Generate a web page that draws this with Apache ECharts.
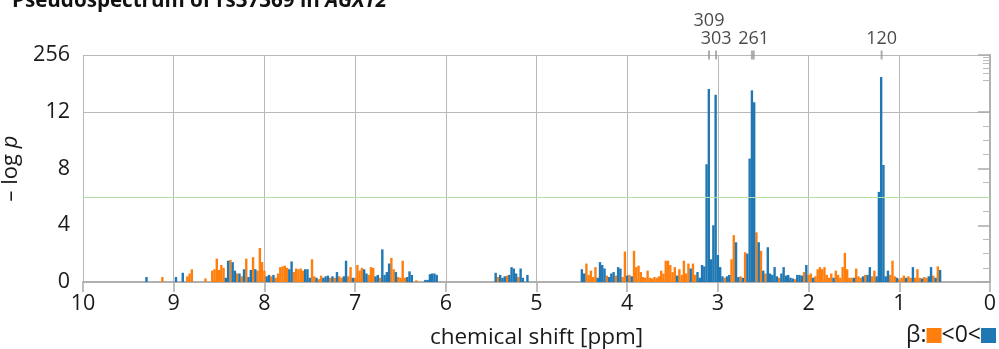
<!DOCTYPE html>
<html>
<head>
<meta charset="utf-8">
<script src="https://cdn.jsdelivr.net/npm/echarts@6/dist/echarts.min.js"></script>
<style>
html, body { margin: 0; padding: 0; background: #fff; }
#chart { width: 999px; height: 349px; }
</style>
</head>
<body>
<div id="chart"></div>
<script>
// signed -log p per 0.025 ppm bin: negative = beta < 0 (orange), positive = beta > 0 (blue)
const binStep = 0.025;
const startA = 9.3, startB = 5.5, startC = 4.525;
const signedA = [
  0.35, 0, 0, 0, 0, 0, 0, -0.35, 0, 0,
  0, 0, 0, 0.35, 0, 0, 0.65, 0, -0.4, -0.6,
  -0.9, 0, 0, 0, 0, 0, -0.25, 0, 0, -0.8,
  -0.9, -1.65, -0.85, -1.2, -1.0, 0.3, 1.5, -1.55, 1.4, 0.8,
  -0.6, 0.6, -0.4, 0.9, -1.65, 0.35, 0.85, -1.75, 0.9, -0.8,
  -2.4, -1.4, -0.8, 0.4, 0.5, -0.4, 0.5, -0.3, -0.6, -1.05,
  -1.1, -1.15, -1.0, 0.9, 1.45, -0.7, -0.95, -0.9, -0.95, -0.8,
  0.9, 0.9, 0.3, -1.6, -0.4, 0.3, -0.2, -0.45, 0.3, 0.4,
  0.45, -0.3, 0.4, -0.3, 0.7, -0.4, -0.3, 0.4, 1.5, -0.4,
  -1.05, 0.3, -0.3, -1.2, -0.8, -1.0, 0.9, 0.6, -0.5, -1.05,
  -1.0, 0.4, 0.5, -0.3, 2.3, 0.5, 0.7, 1.3, -1.7, -0.9,
  0.7, -0.35, -0.3, -1.5, -0.3, 0.35, 0.75, 0.5, 0, -0.12,
  0, 0, 0, 0.15, 0.15, 0.55, 0.6, 0.6, 0.5
];
const signedB = [0, 0, 0.65, -0.35, 0.5, 0.3, 0.4, -0.45, 0.5, 1.05, 0.95, 0.6, -0.35, 0.95, 0.3, 0, 0.5];
const signedC = [
  0, 0.9, 0.6, -1.3, -0.5, -0.8, -0.35, -1.05, 0.3, 1.4,
  1.2, 0.95, -0.45, 0.35, 0.6, 0.7, -0.45, 1.05, 0.95, -0.35,
  -2.15, 0.45, -0.5, 0.4, -2.2, -1.05, -1.15, -0.7, -0.35, -0.3,
  -0.8, -0.3, -0.25, -0.35, -0.3, -0.4, -0.8, -0.6, -1.5, -1.5,
  -1.2, -0.7, -1.05, 0.45, -0.9, -0.5, -1.5, -0.6, -1.3, 0.95,
  -1.3, -0.5, 0.7, 0.3, 1.2, 1.1, 8.3, 41, 1.6, 4.0,
  30, 1.9, 1.05, 0.4, -0.3, 0.4, 0.5, -1.6, -3.3, 2.8,
  0.35, -0.4, 0.3, -2.1, 2.0, 8.7, 38, 20, -3.5, 2.8,
  -2.2, 0.8, -0.6, 2.45, 0.6, 0.5, 1.05, 0.4, -0.3, 0.6,
  1.05, 0.45, 0.5, 0.3, 0.25, -0.2, 0.5, 0.5, 0.45, -0.7,
  1.2, -0.5, -0.6, 0.3, -0.4, -0.9, -1.05, -0.9, -1.05, -0.5,
  -0.3, -0.6, 0.3, -0.8, -0.5, -0.3, -1.05, -2.05, -0.9, -0.3,
  -0.3, 0.3, -0.95, -0.4, -0.3, 0.4, -0.5, 0.5, 1.05, -0.4,
  -0.8, 0.4, 6.35, 78, 8.25, 0.4, 0.8, -0.5, -1.5, -0.4,
  0.3, -0.2, -0.3, -0.45, 0.3, -0.4, -0.3, 1.05, -0.3, -0.9,
  -0.3, 0.25, -0.35, -0.3, 0.4, 1.05, -0.45, 0.3, -1.1, 0.85
];

const yTickLabels = ['0', '4', '8', '12', '256'];
const yBreakTicks = [64, 96, 128, 160, 192, 224];
const peakShift = [3.098, 3.02, 2.625, 2.605, 1.195];
const peakLabels = ['309', '303', '', '261', '120'];
const peakLevel = [1, 0, 0, 0, 0];
const threshold = 6;

const orange = '#ff7f0e', blue = '#1f77b4';
const font = 'Open Sans';
const ink = '#1a1a1a';

// above 12 the axis is squeezed: 12..256 drawn in the band 12..16
function disp(v) {
  return v <= 12 ? v : 12 + 4 * Math.log(v / 12) / Math.log(256 / 12);
}

const negBars = [], posBars = [];
[[startA, signedA], [startB, signedB], [startC, signedC]].forEach(([s, arr]) => {
  arr.forEach((v, i) => {
    if (!v) return;
    const x = +(s - i * binStep).toFixed(3);
    (v < 0 ? negBars : posBars).push([x, disp(Math.abs(v))]);
  });
});

const minorTicks = [1, 2, 3, 5, 6, 7, 9, 10, 11].concat(yBreakTicks.map(disp));

const chart = echarts.init(document.getElementById('chart'));

const option = {
  animation: false,
  textStyle: { fontFamily: font },
  grid: { left: 83, right: 9, top: 55, bottom: 67, outerBoundsMode: 'none', containLabel: false },
  xAxis: {
    type: 'value',
    min: 0,
    max: 10,
    interval: 1,
    inverse: true,
    name: 'chemical shift [ppm]',
    nameLocation: 'middle',
    nameGap: 44,
    nameTextStyle: { fontSize: 22.5, color: ink, fontFamily: font },
    axisLine: { lineStyle: { color: '#b0b0b0', width: 2 } },
    axisTick: { length: 10, lineStyle: { color: '#aaa', width: 1.5 } },
    axisLabel: { fontSize: 21.5, color: ink, margin: 11, fontFamily: font },
    splitLine: { show: true, lineStyle: { color: '#b8b8b8', width: 1 } }
  },
  yAxis: [
    {
      type: 'value',
      min: 0,
      max: 16,
      interval: 4,
      name: '– log {i|p}',
      nameLocation: 'middle',
      nameGap: 46,
      nameTextStyle: {
        fontSize: 22, color: ink, fontFamily: font,
        rich: { i: { fontStyle: 'italic', fontSize: 22, color: ink, fontFamily: font } }
      },
      axisLine: { show: true, lineStyle: { color: '#b0b0b0', width: 2 } },
      axisTick: { show: true, length: 11, lineStyle: { color: '#aaa', width: 1.5 } },
      axisLabel: {
        fontSize: 21.5, color: ink, margin: 13, fontFamily: font,
        formatter: v => yTickLabels[Math.round(v / 4)]
      },
      splitLine: {
        show: true,
        lineStyle: { color: ['rgba(0,0,0,0)', 'rgba(0,0,0,0)', 'rgba(0,0,0,0)', '#b8b8b8', '#b8b8b8'], width: 1 }
      }
    },
    {
      type: 'value', min: 0, max: 16, interval: 4,
      axisLine: { show: false },
      axisTick: { show: true, inside: true, length: 12, lineStyle: { color: '#aaa', width: 1.5 } },
      axisLabel: { show: false },
      splitLine: { show: false }
    },
    {
      type: 'value', min: 0, max: 16, interval: 4,
      axisLine: { show: false },
      axisTick: { show: true, inside: true, length: 7, customValues: minorTicks, lineStyle: { color: '#bbb', width: 1 } },
      axisLabel: { show: false },
      splitLine: { show: false }
    }
  ],
  series: [
    {
      type: 'bar',
      data: negBars,
      barWidth: 2.4,
      barGap: '-100%',
      itemStyle: { color: orange },
      markLine: {
        silent: true,
        symbol: 'none',
        label: { show: false },
        lineStyle: { color: '#b3e2a6', width: 1, type: 'solid', opacity: 1 },
        data: [{ yAxis: threshold }]
      }
    },
    {
      type: 'bar',
      data: posBars,
      barWidth: 2.4,
      barGap: '-100%',
      itemStyle: { color: blue }
    },
    {
      type: 'scatter',
      clip: false,
      silent: true,
      symbol: 'rect',
      symbolSize: [2, 9],
      itemStyle: { color: '#999' },
      z: 10,
      data: peakShift.map((x, i) => ({
        value: [x, 16],
        label: {
          show: !!peakLabels[i],
          formatter: peakLabels[i],
          position: 'top',
          distance: 3,
          offset: [0, -18 * peakLevel[i]],
          fontSize: 18,
          color: ink,
          fontFamily: font
        }
      }))
    }
  ],
  graphic: [
    {
      type: 'text',
      left: 12,
      top: -9,
      style: {
        text: '{b|Pseudospectrum of rs37369 in }{bi|AGXT2}',
        rich: {
          b: { fontSize: 20.6, fontWeight: 'bold', fill: '#111', fontFamily: font },
          bi: { fontSize: 20.6, fontWeight: 'bold', fontStyle: 'italic', fill: '#111', fontFamily: font }
        }
      }
    },
    {
      type: 'text',
      right: 3,
      top: 324,
      style: {
        text: 'β:{o| }<0<{b| }',
        fontSize: 23,
        fill: ink,
        fontFamily: font,
        rich: {
          o: { width: 15, height: 15, backgroundColor: orange },
          b: { width: 15, height: 15, backgroundColor: blue }
        }
      }
    }
  ]
};

chart.setOption(option);
</script>
</body>
</html>
